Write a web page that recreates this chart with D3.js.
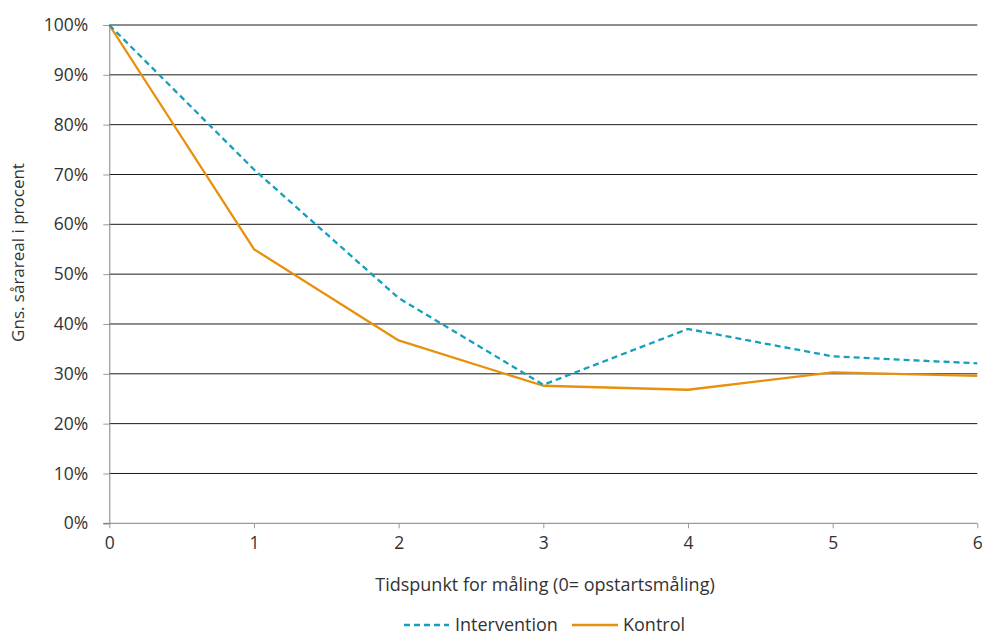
<!DOCTYPE html>
<html><head><meta charset="utf-8">
<script src="https://cdn.jsdelivr.net/npm/d3@7"></script>
<style>body{margin:0;background:#fff}svg{display:block}text{font-family:"Open Sans",sans-serif;fill:#333}</style>
</head><body><svg id="c" width="982" height="635"></svg>
<script>
const timepoints = [0,1,2,3,4,5,6];
const intervention = [100,71,45.2,27.8,39,33.5,32.1];
const kontrol = [100,55,36.7,27.6,26.8,30.3,29.6];
const yTicks = [0,10,20,30,40,50,60,70,80,90,100];
const seriesNames = ["Intervention","Kontrol"];

const FONT = '"Open Sans",sans-serif';
const svg = d3.select("#c");
const x = d3.scaleLinear().domain([0,6]).range([109.3,977.3]);
const y = d3.scaleLinear().domain([0,100]).range([523.3,25]);

// gridlines
svg.append("g").selectAll("line").data(yTicks.filter(d=>d>0)).join("line")
  .attr("x1",x(0)).attr("x2",x(6)).attr("y1",d=>y(d)).attr("y2",d=>y(d))
  .attr("stroke","#1a1a1a").attr("stroke-width",1);

// y axis
const ya = svg.append("g").attr("transform",`translate(${x(0)},0)`)
  .call(d3.axisLeft(y).tickValues(yTicks).tickFormat(d=>d+"%").tickSize(6).tickPadding(15));
ya.select(".domain").attr("stroke","#808080");
ya.selectAll(".tick line").attr("stroke","#9a9a9a");
ya.selectAll(".tick text").attr("font-size",17.5).attr("fill","#383838").style("font-family",FONT);

// x axis
const xa = svg.append("g").attr("transform",`translate(0,${y(0)})`)
  .call(d3.axisBottom(x).tickValues(timepoints).tickFormat(d3.format("d")).tickSize(5).tickPadding(8));
xa.select(".domain").attr("stroke","#808080").attr("d",`M${x(0)-6},0H${x(6)}`);
xa.selectAll(".tick line").attr("stroke","#9a9a9a");
xa.selectAll(".tick text").attr("font-size",17.5).attr("fill","#383838").style("font-family",FONT);

const line = d3.line().x((d,i)=>x(timepoints[i])).y(d=>y(d));
svg.append("path").datum(kontrol).attr("d",line).attr("fill","none")
  .attr("stroke","#e8900c").attr("stroke-width",2.3).attr("stroke-linejoin","round");
svg.append("path").datum(intervention).attr("d",line).attr("fill","none")
  .attr("stroke","#13a0bd").attr("stroke-width",2.3).attr("stroke-dasharray","6,4");

// axis titles
svg.append("text").attr("transform","translate(24,252.5) rotate(-90)").attr("text-anchor","middle")
  .attr("font-size",17).text("Gns. sårareal i procent");
svg.append("text").attr("x",545).attr("y",591).attr("text-anchor","middle")
  .attr("font-size",18).text("Tidspunkt for måling (0= opstartsmåling)");

// legend
const lg = svg.append("g");
lg.append("line").attr("x1",404).attr("x2",449).attr("y1",625).attr("y2",625)
  .attr("stroke","#13a0bd").attr("stroke-width",2.3).attr("stroke-dasharray","6,4");
lg.append("text").attr("x",455).attr("y",631).attr("font-size",18).text(seriesNames[0]);
lg.append("line").attr("x1",572).attr("x2",618).attr("y1",625).attr("y2",625)
  .attr("stroke","#e8900c").attr("stroke-width",2.3);
lg.append("text").attr("x",623).attr("y",631).attr("font-size",18).text(seriesNames[1]);
</script></body></html>
